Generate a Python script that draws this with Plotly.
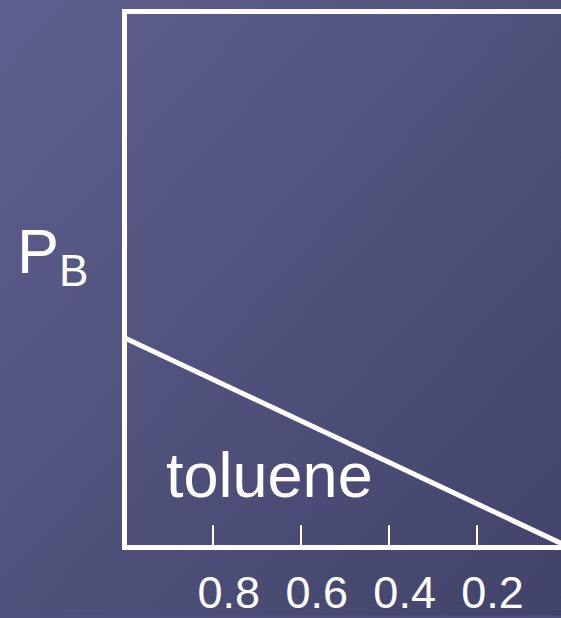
import base64
import plotly.graph_objects as go

# Mole fraction of benzene (x_B) and partial pressure of benzene (P_B)
x_b = [1.0, 0.0]
p_b = [0.39, 0.0]

tick_vals = [0.8, 0.6, 0.4, 0.2]
tick_text = ["0.8", "0.6", "0.4", "0.2"]

line_label = "toluene"
y_label = "P<sub>B</sub>"

W, H = 561, 618
FONT = "Liberation Sans, Arial, sans-serif"
WHITE = "#ffffff"

# Diagonal slide-style gradient used as the page background
svg = f"""<svg xmlns='http://www.w3.org/2000/svg' width='{W}' height='{H}' viewBox='0 0 {W} {H}' preserveAspectRatio='none'>
<defs><linearGradient id='g' x1='0' y1='0' x2='1' y2='1'>
<stop offset='0' stop-color='#5e5f8e'/>
<stop offset='1' stop-color='#424369'/>
</linearGradient></defs>
<rect width='{W}' height='{H}' fill='url(#g)'/></svg>"""
bg_src = "data:image/svg+xml;base64," + base64.b64encode(svg.encode()).decode()

fig = go.Figure()
fig.add_trace(go.Scatter(
    x=x_b, y=p_b, mode="lines",
    line=dict(color=WHITE, width=5),
    hoverinfo="skip", showlegend=False,
))

fig.add_annotation(
    x=0.671, y=0.131, xref="x", yref="y",
    text=line_label, showarrow=False,
    font=dict(family=FONT, size=63, color=WHITE),
    xanchor="center", yanchor="middle",
)
fig.add_annotation(
    x=-0.172, y=0.545, xref="paper", yref="paper",
    text=y_label, showarrow=False,
    font=dict(family=FONT, size=63, color=WHITE),
    xanchor="center", yanchor="middle",
)

fig.update_layout(
    width=W, height=H,
    margin=dict(l=127, r=0, t=14, b=71),
    paper_bgcolor="#505180",
    plot_bgcolor="rgba(0,0,0,0)",
    images=[dict(
        source=bg_src, xref="paper", yref="paper",
        x=-127 / 434, y=1 + 14 / 533, sizex=W / 434, sizey=H / 533,
        xanchor="left", yanchor="top", sizing="stretch", layer="below",
    )],
    xaxis=dict(
        range=[0.995, 0.008],
        showgrid=False, zeroline=False,
        showline=True, linecolor=WHITE, linewidth=5, mirror=True,
        ticks="inside", ticklen=20, tickwidth=1.5, tickcolor=WHITE,
        tickvals=tick_vals, ticktext=tick_text,
        tickfont=dict(family=FONT, size=45, color=WHITE),
        ticklabelshift=-16,
        ticklabelstandoff=4,
    ),
    yaxis=dict(
        range=[0, 1],
        showgrid=False, zeroline=False,
        showline=True, linecolor=WHITE, linewidth=5, mirror=False,
        showticklabels=False, ticks="",
    ),
)

fig.write_html("out.html")
